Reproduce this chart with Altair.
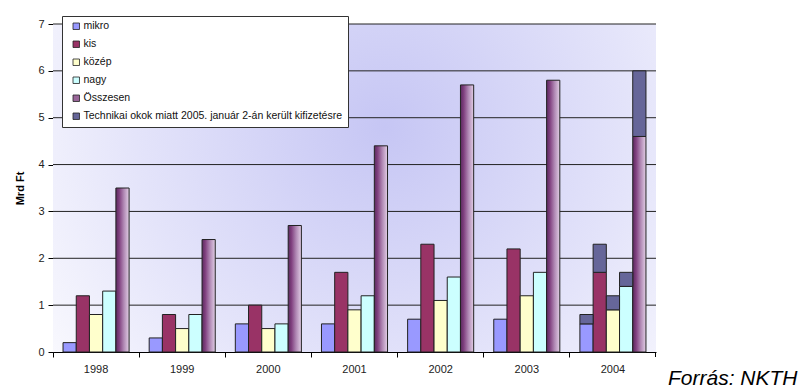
import altair as alt
import pandas as pd

# Annual payments by company size (billion HUF)
years = ["1998", "1999", "2000", "2001", "2002", "2003", "2004"]
mikro = [0.2, 0.3, 0.6, 0.6, 0.7, 0.7, 0.6]
kis = [1.2, 0.8, 1.0, 1.7, 2.3, 2.2, 1.7]
kozep = [0.8, 0.5, 0.5, 0.9, 1.1, 1.2, 0.9]
nagy = [1.3, 0.8, 0.6, 1.2, 1.6, 1.7, 1.4]
osszesen = [3.5, 2.4, 2.7, 4.4, 5.7, 5.8, 4.6]
# Paid out on 2 January 2005 for technical reasons (2004 only), per series
technikai_2004 = [0.2, 0.6, 0.3, 0.3, 1.4]

y_ticks = [0, 1, 2, 3, 4, 5, 6, 7]

series = ["mikro", "kis", "közép", "nagy", "Összesen"]
tech_label = "Technikai okok miatt 2005. január 2-án került kifizetésre"
legend_domain = series + [tech_label]
legend_colors = ["#9999ff", "#993366", "#ffffcc", "#ccffff", "#996699", "#666699"]

values = {"mikro": mikro, "kis": kis, "közép": kozep, "nagy": nagy, "Összesen": osszesen}

rows = []
for s in series[:4]:
    for y, v in zip(years, values[s]):
        rows.append({"year": y, "group": s, "key": s, "lo": 0.0, "hi": v})
solid = pd.DataFrame(rows)

total = pd.DataFrame({"year": years, "group": "Összesen", "lo": 0.0, "hi": osszesen})

tech_rows = []
for s, t in zip(series, technikai_2004):
    base = values[s][-1]
    tech_rows.append({"year": "2004", "group": s, "key": tech_label,
                      "lo": base, "hi": round(base + t, 2)})
tech = pd.DataFrame(tech_rows)

W, H = 603, 328
FONT = "Liberation Sans"

x_enc = alt.X(
    "year:N",
    sort=years,
    scale=alt.Scale(paddingInner=0, paddingOuter=0),
    axis=alt.Axis(
        title=None, bandPosition=0, labelAngle=0,
        tickSize=5, tickColor="#000", domainColor="#000", labelPadding=6,
        labelFontSize=11, labelColor="#222", labelFont=FONT, grid=False,
    ),
)
xoff = alt.XOffset("group:N", sort=series,
                   scale=alt.Scale(domain=series, paddingInner=0, paddingOuter=0.76))
y_scale = alt.Scale(domain=[0, 7], nice=False)
y_enc = alt.Y(
    "lo:Q",
    scale=y_scale,
    axis=alt.Axis(
        title="Mrd Ft", values=y_ticks, grid=False, domainColor="#000",
        tickColor="#000", tickSize=5, labelFontSize=11, labelColor="#222",
        labelFont=FONT, labelPadding=4, titleFont=FONT, titleFontSize=11,
        titleFontWeight="bold", titleColor="#000", titlePadding=12,
    ),
)
color_enc = alt.Color(
    "key:N",
    scale=alt.Scale(domain=legend_domain, range=legend_colors),
    legend=alt.Legend(
        title=None, orient="none", legendX=9, legendY=-8,
        fillColor="#ffffff", strokeColor="#333", padding=5,
        symbolType="square", symbolSize=42, symbolStrokeColor="#222",
        symbolStrokeWidth=0.8, symbolOffset=4, labelFont=FONT,
        labelFontSize=10.5, labelColor="#111", rowPadding=7, labelOffset=2,
        labelLimit=400,
    ),
)

# Soft bluish radial haze behind the plot area
bg_grad = alt.RadialGradient(
    gradient="radial", x1=0.55, y1=0.4, x2=0.55, y2=0.4, r1=0, r2=0.75,
    stops=[
        alt.GradientStop(offset=0, color="#c6c6f4"),
        alt.GradientStop(offset=0.55, color="#e4e4fa"),
        alt.GradientStop(offset=1, color="#ffffff"),
    ],
)
backdrop = alt.Chart(pd.DataFrame({"b": [0]})).mark_rect(color=bg_grad).encode(
    x=alt.value(0), x2=alt.value(W), y=alt.value(0), y2=alt.value(H)
)

# Horizontal gridlines drawn above the haze but beneath the bars
grid = alt.Chart(pd.DataFrame({"v": y_ticks[1:]})).mark_rule(
    color="#222", strokeWidth=1
).encode(y=alt.Y("v:Q", scale=y_scale), x=alt.value(0), x2=alt.value(W))

# Closing category tick at the right end of the x axis
end_tick = alt.Chart(pd.DataFrame({"b": [0]})).mark_rule(
    color="#000", strokeWidth=1
).encode(x=alt.value(W - 0.5), y=alt.value(H), y2=alt.value(H + 5))

solid_bars = alt.Chart(solid).mark_bar(stroke="#222", strokeWidth=1).encode(
    x=x_enc, xOffset=xoff, y=y_enc, y2="hi:Q", color=color_enc
)

purple_grad = alt.LinearGradient(
    gradient="linear", x1=0, x2=1, y1=0, y2=0,
    stops=[
        alt.GradientStop(offset=0, color="#5a2a5e"),
        alt.GradientStop(offset=0.25, color="#80407f"),
        alt.GradientStop(offset=0.6, color="#b088b4"),
        alt.GradientStop(offset=1, color="#e2cfe6"),
    ],
)
total_bars = alt.Chart(total).mark_bar(
    color=purple_grad, stroke="#222", strokeWidth=1
).encode(x=x_enc, xOffset=xoff, y=y_enc, y2="hi:Q")

tech_bars = alt.Chart(tech).mark_bar(stroke="#222", strokeWidth=1).encode(
    x=x_enc, xOffset=xoff, y=y_enc, y2="hi:Q", color=color_enc
)

source = alt.Chart(pd.DataFrame({"t": ["Forrás: NKTH"]})).mark_text(
    font=FONT, fontSize=21, fontStyle="italic", align="left",
    baseline="alphabetic", color="#000",
).encode(text="t:N", x=alt.value(W + 12), y=alt.value(H + 33))

chart = (
    alt.layer(backdrop, grid, end_tick, solid_bars, total_bars, tech_bars, source)
    .properties(
        width=W, height=H,
        autosize=alt.AutoSizeParams(type="none"),
        padding={"left": 53, "top": 24, "right": 150, "bottom": 40},
        background="#ffffff",
    )
    .configure_view(stroke=None)
)

chart.save("out.html", embed_options={"renderer": "svg", "actions": False})
